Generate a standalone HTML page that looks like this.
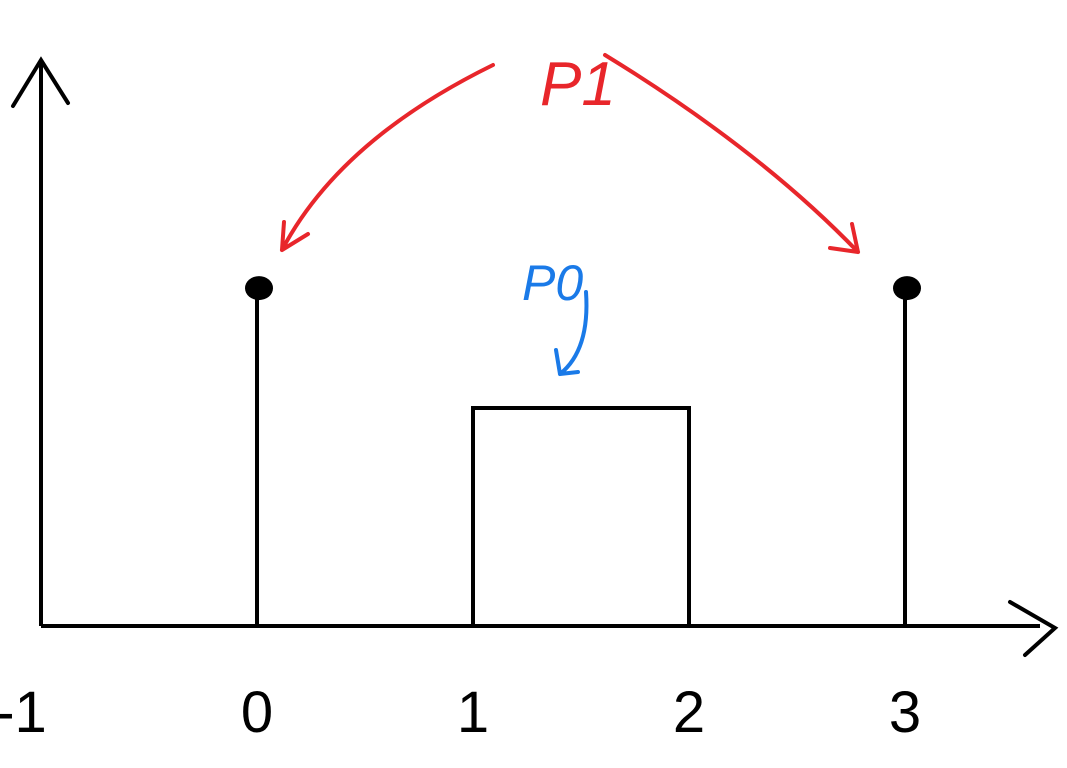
<!DOCTYPE html>
<html><head><meta charset="utf-8"><style>
html,body{margin:0;padding:0;background:#fff;width:1067px;height:768px;overflow:hidden}
text{font-family:"Liberation Sans",sans-serif}
</style></head><body>
<svg width="1067" height="768" viewBox="0 0 1067 768" xmlns="http://www.w3.org/2000/svg">
<g id="marks"></g>
</svg>
<script>
const tickValues = [-1, 0, 1, 2, 3];
const tickLabels = ["-1", "0", "1", "2", "3"];
const impulseX = [0, 3];
const impulseH = [1.55, 1.55];
const boxStart = [1];
const boxEnd = [2];
const boxH = [1.0];

const x0 = 257, xUnit = 216, yBase = 626, yUnit = 218;
const X = v => x0 + v * xUnit;
const Y = v => yBase - v * yUnit;
const NS = "http://www.w3.org/2000/svg";
const g = document.getElementById('marks');
function mk(tag, attrs){const e=document.createElementNS(NS,tag);for(const k in attrs)e.setAttribute(k,attrs[k]);g.appendChild(e);return e;}

// axes
let e = mk('line',{x1:X(-1),y1:yBase,x2:1040,y2:yBase,stroke:'#000','stroke-width':4});


e = mk('path',{d:'M1010,602 L1055,628 L1025,655',fill:'none',stroke:'#000','stroke-width':4,'stroke-linecap':'round'});


e = mk('line',{x1:X(-1),y1:yBase,x2:X(-1),y2:62,stroke:'#000','stroke-width':4});


e = mk('path',{d:'M13,106 L41,60 L68,103',fill:'none',stroke:'#000','stroke-width':4,'stroke-linecap':'round'});



// tick labels
tickValues.forEach((v,i)=>{
  const t = mk('text',{x:X(v)+(v<0?-20:0),y:732,'font-size':58,'text-anchor':'middle',fill:'#000'});
  t.textContent = tickLabels[i];
  
  
});

// impulses
impulseX.forEach((v,i)=>{
  const l = mk('line',{x1:X(v),y1:yBase,x2:X(v),y2:Y(impulseH[i]),stroke:'#000','stroke-width':4});
  
  
  const c = mk('ellipse',{cx:X(v)+2,cy:Y(impulseH[i]),rx:14,ry:12,fill:'#000'});
  
  
});

// box
boxStart.forEach((v,i)=>{
  const r = mk('path',{d:`M${X(v)},${yBase} L${X(v)},${Y(boxH[i])} L${X(boxEnd[i])},${Y(boxH[i])} L${X(boxEnd[i])},${yBase}`,fill:'none',stroke:'#000','stroke-width':4});
  
  
});

// annotations
e = mk('text',{x:540,y:105,'font-size':62,fill:'#e8262b','font-style':'italic'});
e.textContent='P1';


e = mk('path',{d:'M493,65 Q340,140 282,250 M282,250 L284,222 M282,250 L308,234 M605,55 Q760,150 858,252 M858,252 L830,248 M858,252 L852,224',fill:'none',stroke:'#e8262b','stroke-width':4,'stroke-linecap':'round'});


e = mk('text',{x:522,y:300,'font-size':50,fill:'#1a7ae8','font-style':'italic'});
e.textContent='P0';


e = mk('path',{d:'M586,292 Q590,350 560,374 M560,374 L556,350 M560,374 L578,372',fill:'none',stroke:'#1a7ae8','stroke-width':4,'stroke-linecap':'round'});


</script>
</body></html>
